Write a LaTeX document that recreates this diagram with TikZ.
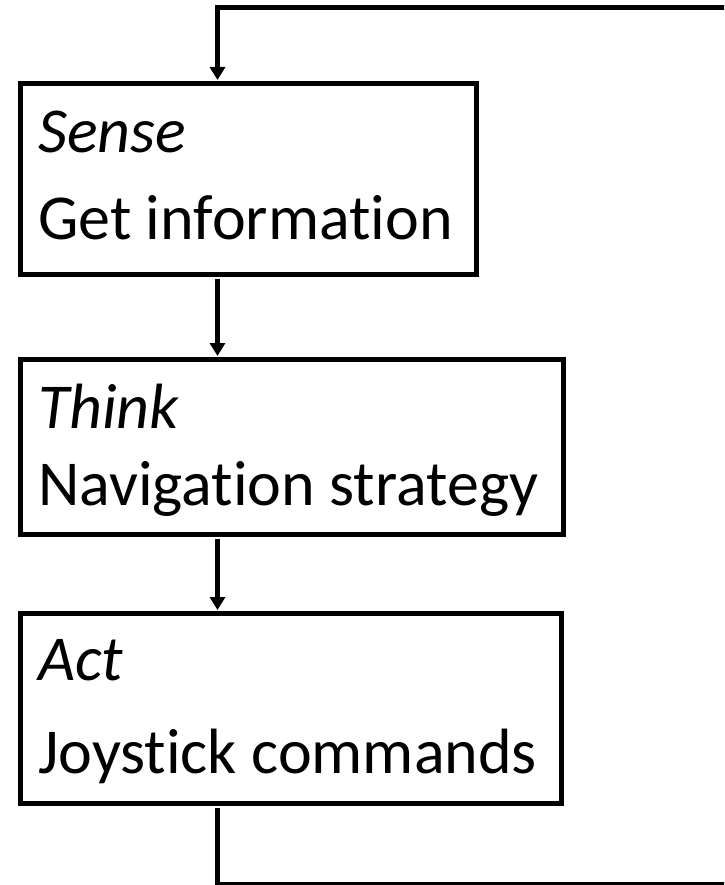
\documentclass[tikz,border=0pt]{standalone}
\usepackage{fontspec}
\setmainfont[Ligatures={NoCommon,NoContextual},RawFeature={-liga;-clig;-dlig}]{Carlito}
\usetikzlibrary{arrows.meta}
\begin{document}
\begin{tikzpicture}[x=1pt,y=-1pt,
  box/.style={draw, line width=5pt, rectangle, inner sep=0pt, outer sep=0pt, anchor=north west},
  lbl/.style={anchor=base west, inner sep=0pt, font=\fontsize{64}{64}\selectfont},
  conn/.style={line width=5pt, line join=miter},
  arr/.style={conn, -{Triangle[length=13pt,width=15pt]}, shorten <=5pt, shorten >=3.5pt}]
\useasboundingbox (0,0) rectangle (724,885);
\clip (0,0) rectangle (724,885);
\fill[white] (0,0) rectangle (724,885);

\node[box, minimum width=456pt, minimum height=190.5pt] (s) at (20.5,83.5) {};
\node[box, minimum width=543pt, minimum height=174.5pt] (t) at (20.5,359.5) {};
\node[box, minimum width=541pt, minimum height=189.5pt] (a) at (20.5,613.5) {};

\node[lbl] (s1) at (38,153) {\itshape Sense};
\node[lbl] (s2) at (38,240) {Get information};
\node[lbl] (t1) at (38,428) {\itshape Think};
\node[lbl] (t2) at (38,505) {Navigation strategy};
\node[lbl] (a1) at (38,680) {\itshape Act};
\node[lbl] (a2) at (38,773) {Joystick commands};

\coordinate (ax) at (217.5,0);
\coordinate (topr) at (745,7.5);
\coordinate (botr) at (745,884.5);

\draw[arr] (s.south -| ax) -- (t.north -| ax);
\draw[arr] (t.south -| ax) -- (a.north -| ax);
\draw[arr] (a.south -| ax) |- (botr) -- (topr) -| (s.north -| ax);
\end{tikzpicture}
\end{document}
